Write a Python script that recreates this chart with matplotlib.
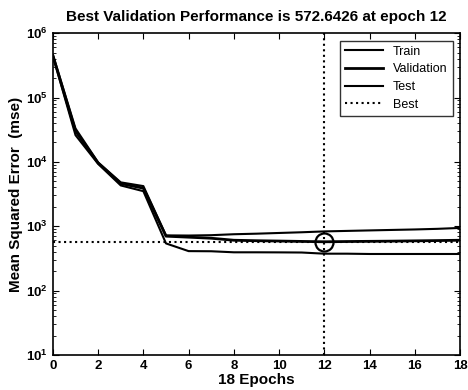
import numpy as np
import matplotlib
matplotlib.use("Agg")
import matplotlib.pyplot as plt
from matplotlib.ticker import FuncFormatter, LogLocator

plt.rcParams['font.family'] = ['Liberation Sans', 'DejaVu Sans']
plt.rcParams['mathtext.fontset'] = 'custom'
plt.rcParams['mathtext.rm'] = 'Liberation Sans'
plt.rcParams['mathtext.bf'] = 'Liberation Sans:bold'

epochs = np.arange(0, 19)
train = [4.6e5, 3.3e4, 9.8e3, 4.8e3, 4.2e3, 720, 716, 725, 750, 765, 785, 805, 830, 845, 860, 875, 890, 910, 940]
validation = [4.5e5, 3.0e4, 9.6e3, 4.6e3, 3.9e3, 700, 675, 650, 605, 595, 588, 580, 572.6426, 578, 582, 586, 592, 598, 605]
test = [4.4e5, 2.6e4, 9.3e3, 4.3e3, 3.5e3, 540, 410, 408, 393, 393, 392, 390, 374, 374, 370, 370, 370, 370, 370]
best_epoch = 12
best_perf = 572.6426

fig = plt.figure(figsize=(4.68, 3.9), dpi=100)
ax = fig.add_axes([0.113, 0.09, 0.87, 0.825])

ax.semilogy(epochs, train, color='black', lw=1.5, label='Train')
ax.semilogy(epochs, validation, color='black', lw=2.0, label='Validation')
ax.semilogy(epochs, test, color='black', lw=1.5, label='Test')
ax.axhline(best_perf, color='black', ls=':', lw=1.5, label='Best')
ax.axvline(best_epoch, color='black', ls=':', lw=1.5)
ax.plot(best_epoch, best_perf, 'o', mfc='none', mec='black', ms=13, mew=1.6)

ax.set_xlim(0, 18)
ax.set_ylim(10, 1e6)
ax.set_xticks(range(0, 19, 2))
ax.yaxis.set_major_locator(LogLocator(base=10))
ax.yaxis.set_major_formatter(FuncFormatter(lambda v, p: r'$\mathbf{10^{%d}}$' % round(np.log10(v))))
ax.tick_params(which='both', direction='in', top=True, right=True, labelsize=9.5)
ax.tick_params(which='major', length=4)
ax.tick_params(which='minor', length=2)
for lab in ax.get_xticklabels():
    lab.set_fontweight('bold')
for s in ax.spines.values():
    s.set_linewidth(1.2)

ax.set_title('Best Validation Performance is 572.6426 at epoch 12', fontsize=11, fontweight='bold', pad=9)
ax.set_xlabel('18 Epochs', fontsize=11, fontweight='bold', labelpad=1)
ax.set_ylabel('Mean Squared Error  (mse)', fontsize=11, fontweight='bold', labelpad=2)

leg = ax.legend(loc='upper right', fontsize=9, frameon=True, fancybox=False,
                edgecolor='black', handlelength=3, borderaxespad=0.6, labelspacing=0.45)
leg.get_frame().set_linewidth(1.0)

fig.savefig('out.png', dpi=100)
